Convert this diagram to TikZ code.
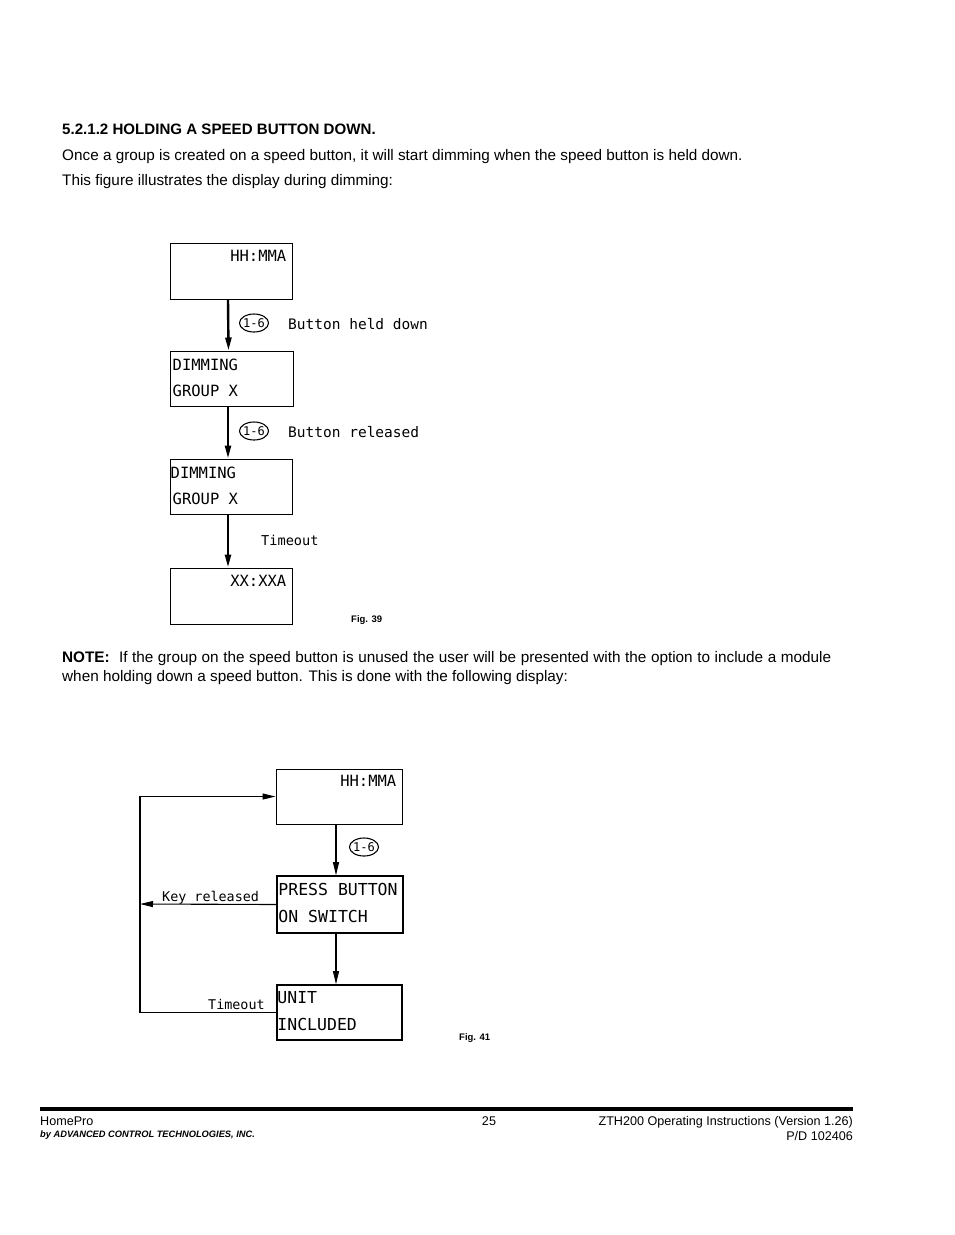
\documentclass[tikz,border=0pt]{standalone}
\usepackage{fontspec}
\setmainfont{Liberation Sans}
\newfontfamily\cadfont{DejaVu Sans Mono}
\usetikzlibrary{arrows.meta,shapes.geometric,positioning,calc}

\tikzset{
  screen/.style={draw, line width=1pt, inner sep=0pt},
  lcd/.style={font=\cadfont\fontsize{#1}{#1}\selectfont, inner sep=0pt},
  lcd/.default=15.5,
  lbl/.style={font=\cadfont\fontsize{#1}{15}\selectfont, inner sep=0pt, anchor=base west},
  lbl/.default=14.5,
  keyoval/.style={draw, ellipse, line width=1.1pt, minimum width=29pt, minimum height=18pt,
    inner sep=-1pt, font=\cadfont\fontsize{12}{12}\selectfont},
  flow/.style={line width=2.4pt, -{Triangle[length=13pt,width=6pt]}},
  thinflow/.style={line width=1.1pt, -{Triangle[length=13pt,width=6pt]}},
  body/.style={font=\fontsize{15.3}{18}\selectfont, inner sep=0pt, anchor=base west},
  foot/.style={font=\fontsize{12.6}{15}\selectfont, inner sep=0pt},
  figno/.style={font=\bfseries\fontsize{9.5}{9.5}\selectfont, inner sep=0pt, anchor=west},
}

\begin{document}
\begin{tikzpicture}[x=1pt, y=-1pt]
\useasboundingbox[fill=white] (0,0) rectangle (954,1235);

% text above
\node[body, font=\bfseries\fontsize{15.1}{18}\selectfont] (head) at (62,134) {5.2.1.2 HOLDING A SPEED BUTTON DOWN.};
\node[body] (intro1) at (62,160) {Once a group is created on a speed button, it will start dimming when the speed button is held down.};
\node[body] (intro2) at (62,185) {This figure illustrates the display during dimming:};

% fig. 39
\node[screen, minimum width=122pt, minimum height=56pt] (clock) at (231,271) {};
\node[screen, minimum width=123pt, minimum height=55pt] (dimA) at (231.5,378.5) {};
\node[screen, minimum width=122pt, minimum height=55pt] (dimB) at (231,486.5) {};
\node[screen, minimum width=122pt, minimum height=56pt] (result) at (231,596) {};

\node[lcd, anchor=base east] (clocktxt) at ([shift={(-6,19)}]clock.north east) {HH:MMA};
\node[lcd, anchor=base west] (dimA1) at ([shift={(3,20)}]dimA.north west) {DIMMING};
\node[lcd, anchor=base west] (dimA2) at ([shift={(3,46)}]dimA.north west) {GROUP X};
\node[lcd, anchor=base west] (dimB1) at ([shift={(1,20)}]dimB.north west) {DIMMING};
\node[lcd, anchor=base west] (dimB2) at ([shift={(3,46)}]dimB.north west) {GROUP X};
\node[lcd, anchor=base east] (resulttxt) at ([shift={(-6,19)}]result.north east) {XX:XXA};

\draw[flow] ([xshift=-3pt]clock.south) -- ([xshift=-3pt]dimA.north);
\draw[flow] ([xshift=-3.5pt]dimA.south) -- ([xshift=-3pt]dimB.north);
\draw[flow] ([xshift=-3pt]dimB.south) -- ([xshift=-3pt]result.north);

\node[keyoval] (keyA) at (254,323) {1-6};
\node[lbl] (heldtxt) at (288,329) {Button held down};
\node[keyoval] (keyB) at (254,431) {1-6};
\node[lbl] (reltxt) at (288,437) {Button released};
\node[lbl=13.6] (touttxt) at (261,545) {Timeout};
\node[figno] (fig39) at (351,620) {Fig. 39};

% note
\node[body] (note1) at (62,662) {\makebox[769pt][s]{\textbf{NOTE:}\ \ If the group on the speed button is unused the user will be presented with the option to include a module}};
\node[body] (note2) at (62,681) {when holding down a speed button. This is done with the following display:};

% fig. 41
\node[screen, minimum width=126pt, minimum height=55pt] (idle) at (339,796.5) {};
\node[screen, line width=1.6pt, minimum width=126pt, minimum height=57pt] (press) at (340,904.5) {};
\node[screen, line width=1.6pt, minimum width=125pt, minimum height=55pt] (incl) at (339.5,1012.5) {};

\node[lcd, anchor=base east] (idletxt) at ([shift={(-6,18)}]idle.north east) {HH:MMA};
\node[lcd=16.5, anchor=base west] (press1) at ([shift={(2,20)}]press.north west) {PRESS BUTTON};
\node[lcd=16.5, anchor=base west] (press2) at ([shift={(2,47)}]press.north west) {ON SWITCH};
\node[lcd=16.5, anchor=base west] (incl1) at ([shift={(1,19)}]incl.north west) {UNIT};
\node[lcd=16.5, anchor=base west] (incl2) at ([shift={(1,46)}]incl.north west) {INCLUDED};

\draw[thinflow] ([xshift=-3pt]idle.south) -- ([xshift=-4pt]press.north);
\draw[thinflow] ([xshift=-4pt]press.south) -- ([xshift=-3.5pt]incl.north);
\node[keyoval] (keyC) at (364,847) {1-6};

\coordinate (loop) at (140,904);
\draw[thinflow] (press.west) -- (loop);
\draw[thinflow] (incl.west) -- (incl.west -| loop) |- (idle.west);
\node[lbl=13.4] (keyreltxt) at (162,901) {Key released};
\node[lbl=13.4] (tout2txt) at (208,1009) {Timeout};
\node[figno] (fig41) at (459,1038) {Fig. 41};

% footer
\draw[line width=4pt] (40,1109) coordinate (ruleL) -- (853,1109) coordinate (ruleR);
\node[foot, anchor=base west] (brand) at (40,1125) {HomePro};
\node[foot, anchor=base west, font=\bfseries\itshape\fontsize{9.3}{10}\selectfont] (maker) at (40,1137) {by ADVANCED CONTROL TECHNOLOGIES, INC.};
\node[foot, anchor=base] (page) at (489,1125) {25};
\node[foot, anchor=base east] (manual) at (853,1125) {ZTH200 Operating Instructions (Version 1.26)};
\node[foot, anchor=base east] (partno) at (853,1140) {P/D 102406};
\end{tikzpicture}
\end{document}
